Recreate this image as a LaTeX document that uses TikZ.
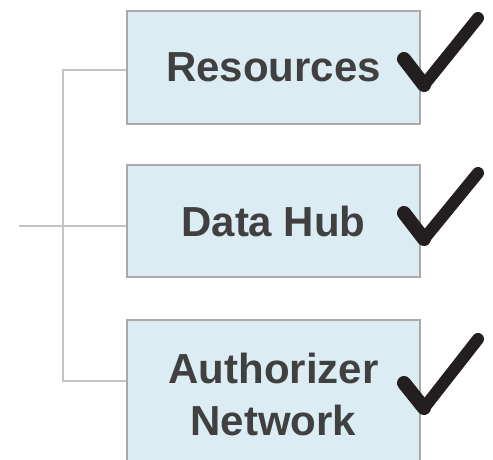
\documentclass[tikz,border=0pt]{standalone}
\usepackage{fontspec}
\setmainfont{Liberation Sans}
\begin{document}
\begin{tikzpicture}[x=1pt,y=-1pt,
  itembox/.style={draw=boxline, line width=1.4pt, fill=boxfill, text=labeltext,
    minimum width=293pt, align=center, inner sep=0pt,
    font=\fontsize{42}{52}\selectfont\bfseries},
  link/.style={draw=linkgray, line width=1.5pt},
  tickshort/.style={draw=tickblack, line width=14pt, line cap=round, line join=round},
  ticklong/.style={draw=tickblack, line width=12pt, line cap=round, line join=round}]
\definecolor{boxline}{HTML}{A9A9A9}
\definecolor{boxfill}{HTML}{DBEDF3}
\definecolor{labeltext}{HTML}{404040}
\definecolor{linkgray}{HTML}{C3C3C3}
\definecolor{tickblack}{HTML}{231F20}
\useasboundingbox (0,0) rectangle (493,459);
\begin{scope}
\clip (0,0) rectangle (493,459);
% the three boxes
\node[itembox, minimum height=113pt] (res) at (273.5,67.5) {\raisebox{-3pt}{Resources}};
\node[itembox, minimum height=112pt] (hub) at (273.5,221) {Data Hub};
\node[itembox, minimum height=148pt] (auth) at (273.5,394) {Authorizer\\Network};
% tree connectors
\coordinate (in) at (19,226);
\coordinate (j1) at (63,70);
\coordinate (j3) at (63,381);
\draw[link] (in) -- (hub.west |- in);
\draw[link] (res.west |- j1) -- (j1) -- (j3) -- (auth.west |- j3);
% check marks: short stroke, then the long one
\draw[tickshort] (404,59) -- (424,85);
\draw[ticklong] (424,85) -- (478,18);
\draw[tickshort] (404,213) -- (424,239);
\draw[ticklong] (424,239) -- (478,173);
\draw[tickshort] (404,383) -- (424,408);
\draw[ticklong] (424,408) -- (478,339);
\end{scope}
\end{tikzpicture}
\end{document}
